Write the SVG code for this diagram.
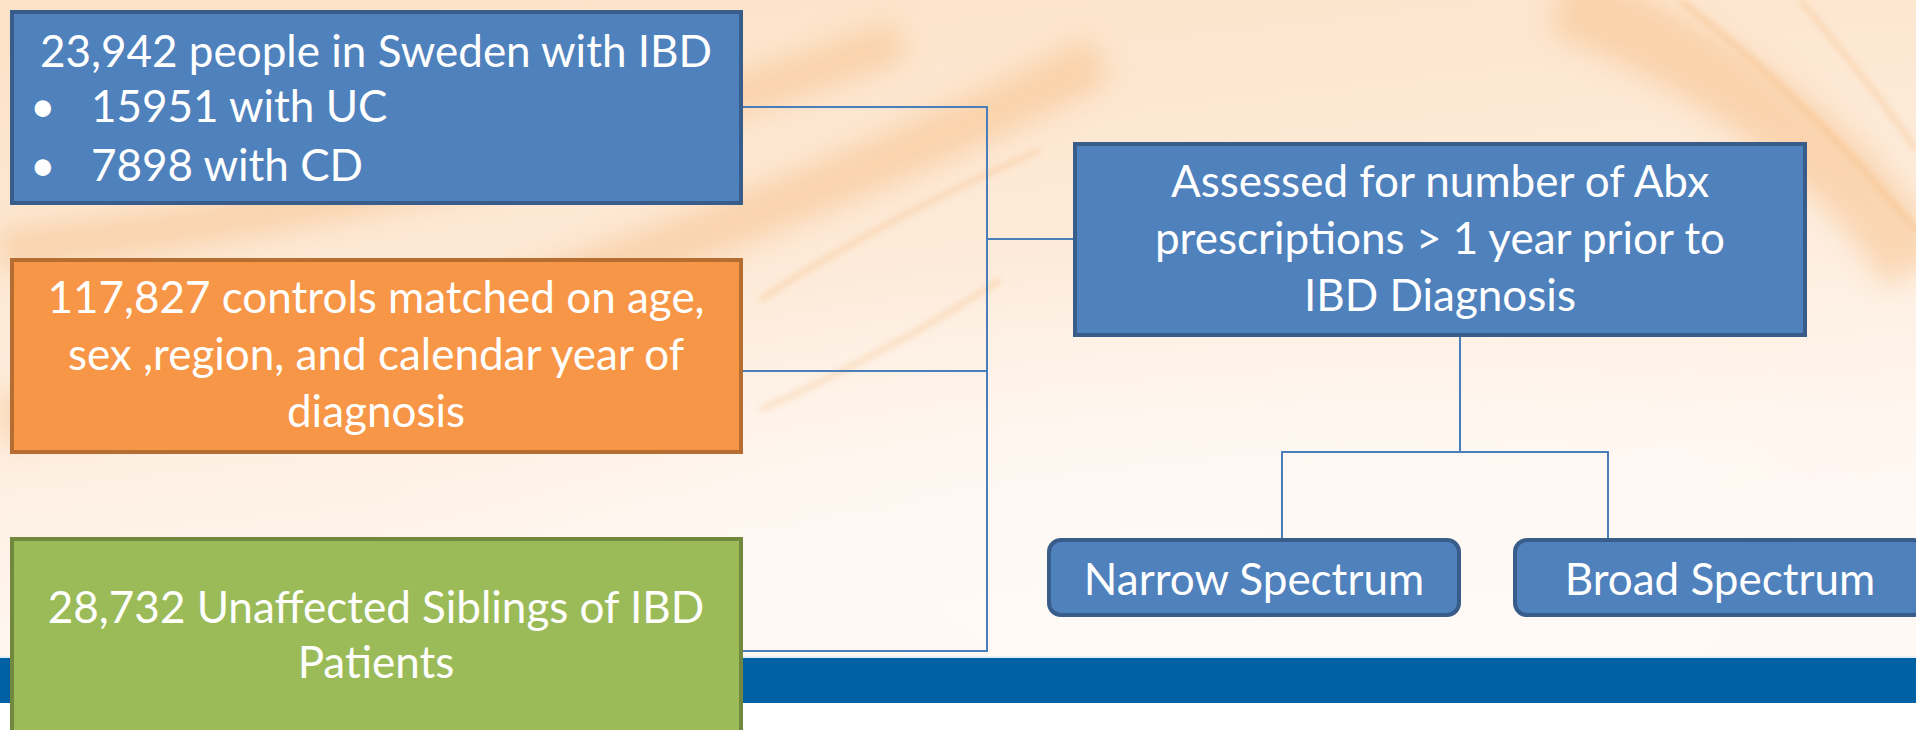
<svg xmlns="http://www.w3.org/2000/svg" width="1916" height="730" viewBox="0 0 1916 730">
<style>
.t{font-family:"Lato","Liberation Sans",sans-serif;font-size:44px;fill:#ffffff}
.c{text-anchor:middle}
.conn{fill:none;stroke:#4A7EBB;stroke-width:2}
.blue{fill:#4F81BD;stroke:#385D8A;stroke-width:4}
.orange{fill:#F79646;stroke:#B66D31;stroke-width:4}
.green{fill:#9BBB59;stroke:#71893F;stroke-width:4}
</style>
<defs>
<linearGradient id="bg" x1="0" y1="0" x2="0.3" y2="1">
<stop offset="0" stop-color="#FCE2C6"/>
<stop offset="0.45" stop-color="#FDEAD8"/>
<stop offset="0.8" stop-color="#FFF6EF"/>
<stop offset="1" stop-color="#FFF9F5"/>
</linearGradient>
<radialGradient id="glow" cx="0.62" cy="0.8" r="0.45">
<stop offset="0" stop-color="#FFFAF6" stop-opacity="0.95"/>
<stop offset="1" stop-color="#FFFAF6" stop-opacity="0"/>
</radialGradient>
<filter id="blur" x="-20%" y="-50%" width="140%" height="200%"><feGaussianBlur stdDeviation="14"/></filter>
<filter id="blur2" x="-20%" y="-50%" width="140%" height="200%"><feGaussianBlur stdDeviation="3"/></filter>
</defs>
<g id="background">
<rect x="0" y="0" width="1916" height="730" fill="url(#bg)"/>
<rect x="0" y="0" width="1916" height="730" fill="url(#glow)"/>
<g fill="none" stroke="#F7BE85" filter="url(#blur)" opacity="0.5">
<path d="M0 420 C300 380 700 260 1100 60" stroke-width="50"/>
<path d="M0 250 C300 220 600 150 900 40" stroke-width="40"/>
<path d="M1560 0 C1720 60 1850 160 1916 270" stroke-width="70"/>
</g>
<g fill="none" stroke="#F5B574" filter="url(#blur2)" opacity="0.45">
<path d="M760 300 C850 240 950 190 1040 150" stroke-width="4"/>
<path d="M1680 0 C1770 70 1850 150 1916 230" stroke-width="5"/>
<path d="M1800 0 C1850 60 1890 110 1916 150" stroke-width="4"/>
<path d="M760 410 C850 370 940 320 1000 280" stroke-width="4"/>
</g>
<rect x="0" y="656" width="1916" height="2" fill="#E8EEF5"/>
<rect x="0" y="658" width="1916" height="45" fill="#0062A5"/>
<rect x="0" y="703" width="1916" height="27" fill="#FFFFFF"/>
</g>
<g id="connectors">
<path class="conn" d="M743 107 H987 V651 H743"/>
<path class="conn" d="M743 371 H987"/>
<path class="conn" d="M987 239 H1073"/>
<path class="conn" d="M1460 337 V452"/>
<path class="conn" d="M1282 538 V452 H1608 V538"/>
</g>
<g id="node-ibd">
<rect class="blue" x="12" y="12" width="729" height="191"/>
<text class="t c" x="376" y="67">23,942 people in Sweden with IBD</text>
<text class="t" x="30" y="122">•</text>
<text class="t" x="91" y="122">15951 with UC</text>
<text class="t" x="30" y="181">•</text>
<text class="t" x="91" y="181">7898 with CD</text>
</g>
<g id="node-controls">
<rect class="orange" x="12" y="260" width="729" height="192"/>
<text class="t c" x="376" y="313">117,827 controls matched on age,</text>
<text class="t c" x="376" y="370">sex ,region, and calendar year of</text>
<text class="t c" x="376" y="427">diagnosis</text>
</g>
<g id="node-siblings">
<rect class="green" x="12" y="539" width="729" height="200"/>
<text class="t c" x="376" y="623">28,732 Unaffected Siblings of IBD</text>
<text class="t c" x="376" y="678">Patients</text>
</g>
<g id="node-assessed">
<rect class="blue" x="1075" y="144" width="730" height="191"/>
<text class="t c" x="1440" y="197">Assessed for number of Abx</text>
<text class="t c" x="1440" y="254">prescriptions &gt; 1 year prior to</text>
<text class="t c" x="1440" y="311">IBD Diagnosis</text>
</g>
<g id="node-narrow">
<rect class="blue" x="1049" y="540" width="410" height="75" rx="12"/>
<text class="t c" x="1254" y="595">Narrow Spectrum</text>
</g>
<g id="node-broad">
<rect class="blue" x="1515" y="540" width="410" height="75" rx="12"/>
<text class="t c" x="1720" y="595">Broad Spectrum</text>
</g>
</svg>
